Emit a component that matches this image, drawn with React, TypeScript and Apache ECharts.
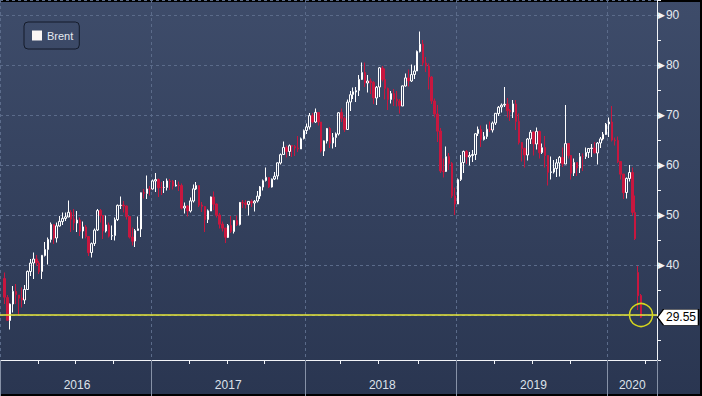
import React, { useEffect, useRef } from "react";
import * as echarts from "echarts";

// ---------- data ----------
const seriesName = "Brent";
const firstAxisWeek = "2015-12-28"; // Monday of the first week band on the axis
const axisWeekCount = 226; // weekly bands shown on the axis (data + empty right margin)
const firstDataWeekIndex = 1; // first candle = week of 2016-01-04
const yearLabels = ["2016", "2017", "2018", "2019", "2020"];
const lastPrice = 29.55;
const markedLevel = 30; // analyst's horizontal line & circle

// weekly candles: [open, high, low, close]
const brent2016 = [
  [37.3, 38.5, 32.2, 33.55], [33.5, 34.0, 28.8, 28.94], [28.9, 32.3, 27.1, 32.18], [32.2, 35.8, 30.5, 34.74],
  [34.7, 36.2, 32.2, 34.06], [34.0, 34.0, 30.0, 33.36], [33.4, 35.5, 31.5, 33.01], [33.0, 36.0, 32.2, 35.1],
  [35.1, 38.9, 35.0, 38.72], [38.7, 41.2, 37.8, 40.39], [40.4, 42.5, 37.2, 41.2], [41.2, 42.0, 39.8, 40.44],
  [40.4, 40.8, 38.2, 38.67], [38.7, 42.0, 37.2, 41.94], [41.9, 44.6, 41.7, 43.1], [43.1, 45.5, 40.1, 45.11],
  [45.1, 48.5, 44.5, 48.13], [48.1, 48.2, 44.2, 45.37], [45.4, 48.5, 44.5, 47.83], [47.8, 49.8, 47.7, 48.72],
  [48.7, 50.5, 48.0, 49.32], [49.3, 50.5, 48.8, 49.64], [49.6, 52.9, 49.6, 50.54], [50.5, 51.0, 46.6, 49.17],
  [49.2, 51.2, 47.0, 48.41], [48.4, 50.8, 46.6, 48.99], [49.0, 49.5, 45.8, 46.76], [46.8, 48.7, 45.3, 47.61],
  [47.6, 48.0, 45.3, 45.69], [45.7, 45.8, 41.8, 42.46], [42.5, 44.5, 41.5, 44.27], [44.3, 47.3, 43.8, 46.97],
  [47.0, 51.2, 46.8, 50.88], [50.9, 51.2, 48.5, 49.92], [49.9, 50.0, 45.2, 46.83], [46.8, 49.9, 46.5, 48.01],
  [48.0, 48.5, 45.5, 45.77], [45.8, 47.9, 45.0, 45.89], [45.9, 49.5, 44.9, 49.06], [49.1, 52.1, 48.8, 51.93],
  [51.9, 53.7, 51.2, 51.95], [52.0, 52.8, 50.5, 51.78], [51.8, 51.9, 49.1, 49.71], [49.7, 49.8, 45.3, 45.58],
  [45.6, 47.5, 43.9, 44.75], [44.8, 47.2, 43.6, 46.86], [46.9, 49.7, 46.8, 47.24], [47.2, 54.5, 45.6, 54.46],
  [54.5, 55.2, 53.3, 54.33], [54.3, 57.9, 53.2, 55.21], [55.2, 55.8, 53.9, 55.16], [55.2, 57.1, 55.1, 56.82],
];
const brent2017 = [
  [56.8, 58.4, 54.6, 57.1], [57.1, 57.3, 53.6, 55.45], [55.5, 56.6, 54.0, 55.49], [55.5, 56.8, 54.4, 55.52],
  [55.5, 57.3, 54.9, 56.81], [56.8, 57.2, 55.0, 56.7], [56.7, 57.0, 55.1, 55.81], [55.8, 57.0, 55.7, 55.99],
  [56.0, 56.7, 54.8, 55.9], [55.9, 56.3, 51.1, 51.37], [51.4, 52.5, 50.3, 51.76], [51.8, 52.0, 49.7, 50.8],
  [50.8, 53.5, 50.5, 52.83], [52.8, 56.1, 52.5, 55.24], [55.2, 56.6, 55.0, 55.89], [55.9, 55.9, 51.6, 51.96],
  [52.0, 52.6, 50.6, 51.73], [51.7, 51.8, 46.6, 49.1], [49.1, 51.1, 48.4, 50.84], [50.8, 53.7, 50.8, 53.61],
  [53.6, 54.7, 51.0, 52.15], [52.2, 52.3, 49.5, 49.95], [50.0, 50.4, 47.3, 48.15], [48.2, 48.7, 46.7, 47.37],
  [47.4, 47.4, 44.4, 45.54], [45.5, 48.2, 45.4, 47.92], [47.9, 49.8, 46.4, 46.71], [46.7, 49.0, 46.3, 48.91],
  [48.9, 49.9, 47.8, 48.06], [48.1, 52.6, 47.9, 52.52], [52.5, 53.0, 51.4, 52.42], [52.4, 53.0, 51.3, 52.1],
  [52.1, 52.8, 49.9, 52.72], [52.7, 53.1, 51.6, 52.41], [52.4, 53.0, 50.7, 52.75], [52.8, 54.8, 52.5, 53.78],
  [53.8, 55.8, 53.2, 55.62], [55.6, 57.1, 54.9, 56.86], [56.9, 59.5, 56.7, 57.54], [57.5, 57.6, 55.4, 55.62],
  [55.6, 57.3, 55.5, 57.17], [57.2, 58.6, 57.0, 57.75], [57.8, 60.5, 57.1, 60.44], [60.4, 62.3, 60.1, 62.07],
  [62.1, 64.7, 62.0, 63.52], [63.5, 63.9, 61.5, 62.72], [62.7, 64.1, 61.8, 63.86], [63.9, 64.0, 61.6, 63.73],
  [63.7, 64.0, 61.8, 63.4], [63.4, 65.8, 62.6, 63.23], [63.2, 65.5, 63.2, 65.25], [65.3, 67.1, 65.1, 66.87],
];
const brent2018 = [
  [66.9, 68.3, 66.2, 67.62], [67.6, 70.4, 67.1, 69.87], [69.9, 70.4, 68.3, 68.61], [68.6, 71.3, 68.4, 70.52],
  [70.5, 70.6, 67.9, 68.58], [68.6, 68.6, 62.5, 62.79], [62.8, 64.9, 61.8, 64.84], [64.8, 67.4, 64.3, 67.31],
  [67.3, 67.6, 63.4, 64.37], [64.4, 66.4, 63.3, 65.49], [65.5, 66.5, 63.6, 66.21], [66.2, 70.6, 65.9, 70.45],
  [70.5, 71.3, 68.6, 69.34], [69.3, 69.7, 66.6, 67.11], [67.1, 73.1, 67.0, 72.58], [72.6, 74.8, 70.8, 74.06],
  [74.1, 75.5, 73.2, 74.64], [74.6, 75.6, 72.6, 74.87], [74.9, 78.0, 73.8, 77.12], [77.1, 80.5, 77.0, 78.51],
  [78.5, 80.5, 75.6, 76.44], [76.4, 78.0, 74.5, 76.79], [76.8, 77.3, 74.2, 76.46], [76.5, 76.8, 72.2, 73.44],
  [73.4, 75.8, 72.0, 75.55], [75.6, 79.6, 73.6, 79.44], [79.4, 79.8, 76.7, 77.11], [77.1, 79.3, 73.1, 75.33],
  [75.3, 75.5, 71.0, 73.07], [73.1, 74.8, 72.3, 74.29], [74.3, 75.2, 71.8, 73.21], [73.2, 74.8, 71.7, 72.81],
  [72.8, 73.2, 70.3, 71.83], [71.8, 75.9, 71.8, 75.82], [75.8, 78.3, 75.7, 77.42], [77.4, 79.1, 75.7, 76.83],
  [76.8, 80.1, 76.6, 78.09], [78.1, 79.9, 77.2, 78.8], [78.8, 82.9, 78.8, 82.72], [82.7, 86.7, 82.5, 84.16],
  [84.2, 85.0, 79.9, 80.43], [80.4, 81.6, 78.6, 79.78], [79.8, 80.3, 75.1, 77.62], [77.6, 77.8, 72.2, 72.83],
  [72.8, 73.3, 69.5, 70.18], [70.2, 72.0, 64.6, 66.76], [66.8, 67.4, 58.4, 58.8], [58.8, 61.3, 57.5, 58.71],
  [58.7, 63.7, 58.6, 61.67], [61.7, 62.4, 59.0, 60.28], [60.3, 60.6, 53.4, 53.82], [53.8, 55.5, 50.0, 52.2],
];
const brent2019 = [
  [52.2, 57.3, 52.5, 57.06], [57.1, 62.0, 56.8, 60.48], [60.5, 62.9, 58.4, 62.7], [62.7, 63.0, 60.2, 61.64],
  [61.6, 62.6, 59.9, 61.89], [61.9, 63.0, 60.6, 62.1], [62.1, 66.4, 61.0, 66.25], [66.3, 67.7, 65.8, 67.12],
  [67.1, 67.9, 63.6, 65.07], [65.1, 66.6, 64.9, 65.74], [65.7, 68.1, 65.2, 67.16], [67.2, 68.7, 66.6, 67.03],
  [67.0, 68.7, 66.5, 68.39], [68.4, 70.4, 68.0, 70.34], [70.3, 71.8, 69.8, 71.55], [71.6, 72.3, 70.5, 71.97],
  [72.0, 75.6, 71.6, 72.15], [72.2, 73.4, 69.5, 70.85], [70.9, 71.2, 68.8, 70.62], [70.6, 73.0, 69.4, 72.21],
  [72.2, 73.0, 67.0, 68.69], [68.7, 70.3, 64.1, 64.49], [64.5, 64.6, 60.7, 63.29], [63.3, 63.5, 59.5, 62.01],
  [62.0, 65.4, 60.9, 65.2], [65.2, 67.0, 64.2, 66.55], [66.6, 66.7, 61.9, 64.23], [64.2, 67.5, 63.1, 66.72],
  [66.7, 66.9, 61.3, 62.47], [62.5, 64.3, 62.2, 63.46], [63.5, 65.8, 59.5, 61.89], [61.9, 61.9, 55.9, 58.53],
  [58.5, 61.7, 57.1, 58.64], [58.6, 61.0, 58.3, 59.34], [59.3, 61.2, 57.6, 60.43], [60.4, 61.8, 57.7, 61.54],
  [61.5, 63.5, 59.6, 60.22], [60.2, 72.0, 60.2, 64.28], [64.3, 64.3, 61.3, 61.91], [61.9, 62.0, 57.1, 58.37],
  [58.4, 61.3, 57.8, 60.51], [60.5, 60.5, 57.8, 59.42], [59.4, 62.4, 58.4, 61.67], [61.7, 62.3, 58.8, 61.69],
  [61.7, 63.5, 61.2, 62.51], [62.5, 63.4, 61.4, 63.3], [63.3, 64.2, 61.6, 63.39], [63.4, 64.6, 62.3, 62.43],
  [62.4, 64.6, 60.1, 64.39], [64.4, 65.6, 63.4, 65.22], [65.2, 66.6, 64.9, 66.14], [66.1, 68.4, 66.0, 68.16],
];
const brent2020 = [
  [68.2, 69.5, 65.6, 68.6], [68.6, 71.8, 64.7, 64.98], [65.0, 65.5, 63.9, 64.85], [64.9, 65.7, 60.4, 60.69],
  [60.7, 60.7, 57.1, 58.16], [58.2, 58.2, 53.2, 54.47], [54.5, 57.5, 53.3, 57.32], [57.3, 60.0, 56.7, 58.5],
  [58.5, 59.5, 49.9, 50.52], [50.5, 53.9, 45.0, 45.27], [38.5, 39.8, 31.0, 33.85], [33.9, 34.2, 29.4, 29.55],
];

// ---------- helpers ----------
const DAY = 86400000;
const WEEK = 7 * DAY;
const startMs = Date.parse(firstAxisWeek);
const weeks: string[] = [];
for (let i = 0; i < axisWeekCount; i++) {
  weeks.push(new Date(startMs + i * WEEK).toISOString().slice(0, 10));
}
const weekIndexOf = (y: number, m: number) => Math.floor((Date.UTC(y, m, 1) - startMs) / WEEK);

const yearStartSet = new Set<number>();
const quarterSet = new Set<number>();
const labelByWeek = new Map<string, string>();
yearLabels.forEach((ys) => {
  const y = Number(ys);
  const s = weekIndexOf(y, 0);
  if (s >= 0 && s < axisWeekCount) yearStartSet.add(s);
  [0, 3, 6, 9].forEach((m) => {
    const q = weekIndexOf(y, m);
    if (q >= 0 && q < axisWeekCount) quarterSet.add(q);
  });
  const e = Math.min(weekIndexOf(y + 1, 0), axisWeekCount);
  const mid = Math.floor((Math.max(s, 0) + e) / 2);
  labelByWeek.set(weeks[mid], ys);
});

const allCandles = [...brent2016, ...brent2017, ...brent2018, ...brent2019, ...brent2020];
const candleData = allCandles.map((c, i) => [weeks[firstDataWeekIndex + i], c[0], c[3], c[2], c[1]]);
const lastWeekIndex = firstDataWeekIndex + allCandles.length - 1;
const lastWeek = weeks[lastWeekIndex];

// layout
const W = 702;
const H = 396;
const gridRight = 45;
const gridBottom = 36;
const plotWidth = W - gridRight;
const tagW = 41;
const tagOffsetX = plotWidth - ((lastWeekIndex + 0.5) * plotWidth) / axisWeekCount + tagW / 2 + 0.5;

const white = "#f2f4f8";
const gridColor = "#5b6b8a";

export default function App() {
  const ref = useRef<HTMLDivElement>(null);
  useEffect(() => {
    document.body.style.margin = "0";
    if (!ref.current) return;
    const chart = echarts.init(ref.current, null, { renderer: "svg" });
    const option: any = {
      animation: false,
      backgroundColor: new echarts.graphic.LinearGradient(0, 0, 0, 1, [
        { offset: 0, color: "#3e4c6a" },
        { offset: 1, color: "#2a3651" },
      ]),
      textStyle: { fontFamily: "Liberation Sans" },
      legend: {
        left: 24,
        top: 22,
        padding: [8, 6, 8, 8],
        borderColor: "#141b2a",
        borderWidth: 1,
        borderRadius: 4,
        itemWidth: 10,
        itemHeight: 10,
        selectedMode: false,
        data: [{ name: seriesName, icon: "rect", itemStyle: { color: "#fbf6f4", borderWidth: 0 } }],
        textStyle: { color: "#e6e9f0", fontSize: 11, fontFamily: "Liberation Sans" },
      },
      grid: { left: 0, right: gridRight, top: 0, bottom: gridBottom },
      xAxis: [
        {
          type: "category",
          data: weeks,
          boundaryGap: true,
          position: "bottom",
          axisLine: { show: true, lineStyle: { color: white, width: 1 } },
          axisTick: {
            show: true,
            interval: (i: number) => quarterSet.has(i),
            length: 4,
            lineStyle: { color: white },
          },
          axisLabel: {
            interval: (i: number, v: string) => labelByWeek.has(v),
            formatter: (v: string) => labelByWeek.get(v) || "",
            color: "#dde2ea",
            fontSize: 12,
            fontFamily: "Liberation Sans",
            margin: 19,
          },
          splitLine: {
            show: true,
            interval: (i: number) => yearStartSet.has(i),
            lineStyle: { color: gridColor, type: [3, 3], width: 1 },
          },
        },
        {
          type: "category",
          data: weeks,
          boundaryGap: true,
          position: "bottom",
          axisLine: { show: false },
          axisTick: {
            show: true,
            interval: (i: number) => yearStartSet.has(i),
            length: 36,
            lineStyle: { color: "#8792a7", width: 1 },
          },
          axisLabel: { show: false },
          splitLine: { show: false },
        },
      ],
      yAxis: [
        {
          type: "value",
          position: "right",
          min: 21,
          max: 93,
          splitNumber: 7,
          axisLine: { show: true, lineStyle: { color: white, width: 1 } },
          axisTick: { show: false },
          axisLabel: {
            show: true,
            showMinLabel: false,
            showMaxLabel: false,
            margin: 1,
            formatter: (v: number) => (v === markedLevel ? "" : `{t|▶}{v|${v}}`),
            rich: {
              t: { fontSize: 9, color: white, fontFamily: "DejaVu Sans" },
              v: { fontSize: 12, color: "#e4e8ef", fontFamily: "Liberation Sans", padding: [0, 0, 0, 1] },
            },
          },
          splitLine: { show: true, lineStyle: { color: gridColor, type: [3, 3], width: 1 } },
        },
        {
          type: "value",
          position: "right",
          min: 21,
          max: 93,
          splitNumber: 14,
          axisLine: { show: false },
          axisTick: { show: true, length: 4, lineStyle: { color: white } },
          axisLabel: { show: false },
          splitLine: { show: false },
        },
      ],
      series: [
        {
          name: seriesName,
          type: "candlestick",
          xAxisIndex: 0,
          yAxisIndex: 0,
          data: candleData,
          encode: { x: 0, y: [1, 2, 3, 4] },
          barWidth: 2,
          itemStyle: {
            color: "rgba(0,0,0,0)",
            color0: "#c8173f",
            borderColor: "#ffffff",
            borderColor0: "#c8173f",
            borderWidth: 1,
          },
          markLine: {
            silent: true,
            symbol: ["none", "none"],
            label: { show: false },
            lineStyle: { color: "#e8e83a", width: 1.5, type: "solid" },
            data: [{ yAxis: markedLevel }],
          },
          markPoint: {
            silent: true,
            data: [
              {
                coord: [lastWeek, markedLevel],
                symbol: "circle",
                symbolSize: 23,
                itemStyle: { color: "rgba(0,0,0,0)", borderColor: "#d6d61e", borderWidth: 1.5 },
                label: { show: false },
              },
              {
                coord: [lastWeek, lastPrice],
                symbol: "path://M0,8 L6,0 L41,0 L41,16 L6,16 Z",
                symbolSize: [tagW, 16],
                symbolOffset: [tagOffsetX, 0],
                itemStyle: { color: "#ffffff", borderColor: "#000000", borderWidth: 1 },
                label: {
                  show: true,
                  position: "inside",
                  formatter: lastPrice.toFixed(2),
                  color: "#000000",
                  fontSize: 12,
                  fontFamily: "Liberation Sans",
                  offset: [3, 0],
                },
              },
            ],
          },
        },
      ],
      graphic: [
        { type: "rect", left: 0, top: 0, shape: { width: W, height: 2 }, style: { fill: "#000" }, silent: true },
        { type: "rect", left: W - 2, top: 0, shape: { width: 2, height: H }, style: { fill: "#000" }, silent: true },
        { type: "rect", left: 0, top: H - 2, shape: { width: W, height: 2 }, style: { fill: "#000" }, silent: true },
      ],
    };
    chart.setOption(option);
    return () => chart.dispose();
  }, []);
  return <div ref={ref} style={{ position: "absolute", left: 0, top: 0, width: W, height: H }} />;
}
